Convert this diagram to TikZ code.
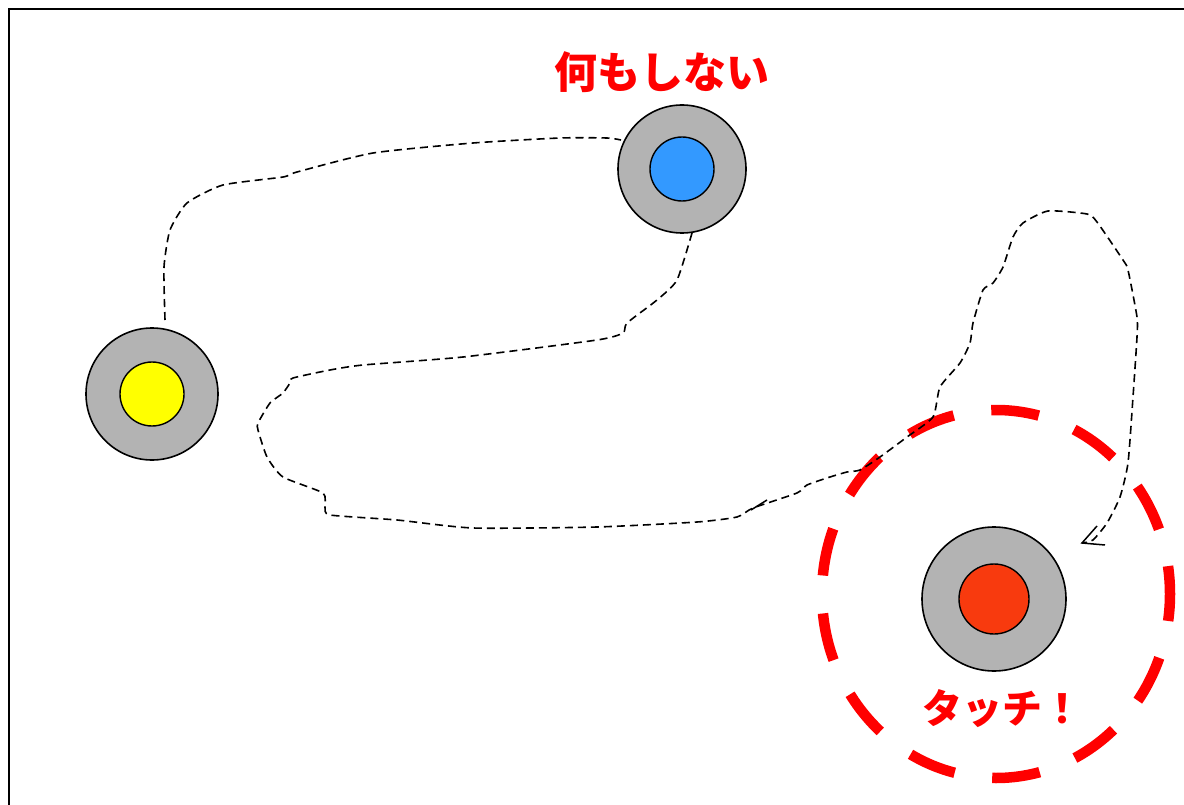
\documentclass[tikz,border=0pt]{standalone}
\usepackage{fontspec}
\newfontfamily\cjk{Noto Sans CJK JP}
\usetikzlibrary{arrows.meta}
\definecolor{ringgray}{HTML}{B3B3B3}
\definecolor{dotblue}{HTML}{3399FF}
\definecolor{dotyellow}{HTML}{FFFF00}
\definecolor{dotred}{HTML}{F83A0E}
\definecolor{textred}{HTML}{FF0000}
\tikzset{
  ring/.style={circle, draw=black, line width=1.6pt, fill=ringgray, inner sep=0pt},
  dot/.style={circle, draw=black, line width=1.4pt, inner sep=0pt},
  route/.style={draw=black, line width=1.6pt, dash pattern=on 8pt off 5pt},
  barb/.style={draw=black, line width=1.5pt, solid},
  label/.style={text=textred, font=\cjk\bfseries\fontsize{43}{46}\selectfont},
  zone/.style={draw=textred, line width=10.5pt, dash pattern=on 48pt off 38pt, dash phase=20pt}
}
\begin{document}
\begin{tikzpicture}[x=1pt,y=-1pt]
\useasboundingbox (0,0) rectangle (1184,805);
\fill[white] (0,0) rectangle (1184,805);
\draw[line width=2pt] (9,810) -- (9,9) -- (1190,9);

% players
\node[ring, minimum size=132pt] (yellow) at (152,394) {};
\node[dot, fill=dotyellow, minimum size=64pt] (yellowdot) at (152,394) {};
\node[ring, minimum size=128pt] (blue) at (682,169) {};
\node[dot, fill=dotblue, minimum size=64pt] (bluedot) at (682,169) {};
\node[ring, minimum size=144pt] (red) at (994,599) {};
\node[dot, fill=dotred, minimum size=70pt] (reddot) at (994,599) {};

% touch zone
\draw[zone] (996,594) ellipse [x radius=174pt, y radius=184pt];

% labels
\node[label] (nothing) at (662,72) {何もしない};
\node[label, font=\cjk\bfseries\fontsize{40}{44}\selectfont] (touch) at (1002,709) {タッチ！};

% route
\coordinate (finish) at (1082,543);
\coordinate (barbA) at (1097,526);
\coordinate (barbB) at (1105,545);
\draw[route] plot[smooth, tension=0.35] coordinates {
 (165,320) (164,267) (170,230) (187,203) (223,185) (283,177) (297,172)
 (373,153) (473,143) (560,138) (607,138) (621,140)};
\draw[route] plot[smooth, tension=0.35] coordinates {
 (692,233) (677,280) (657,300) (627,323) (623,333) (597,340) (463,357)
 (363,365) (330,370) (293,378) (290,383) (283,393) (270,403) (258,423)
 (258,430) (267,457) (283,477) (323,493) (325,507) (330,515) (397,520)
 (473,528) (597,527) (697,522) (737,517) (753,508) (797,493) (807,485)
 (830,477) (847,472) (860,470) (880,457) (907,437) (933,417) (940,387)
 (960,363) (970,343) (973,323) (983,290) (993,283) (1003,267) (1013,237)
 (1023,223) (1048,211) (1087,214) (1097,222) (1123,260) (1128,270)
 (1137,317) (1137,337) (1133,397) (1128,463) (1120,497) (1107,523)
 (1093,540) (finish)};
\draw[barb] (barbA) -- (finish) -- (barbB);
\draw[barb] (751,510) -- (767,500);
\end{tikzpicture}
\end{document}
